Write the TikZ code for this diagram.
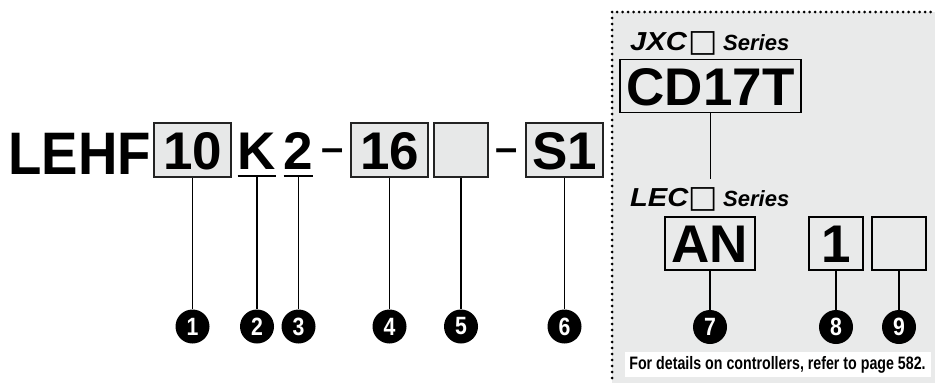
\documentclass[tikz,border=0pt]{standalone}
\usepackage{fontspec}
\setmainfont{Liberation Sans}
\newfontfamily\symfont{DejaVu Sans}
\definecolor{panelgray}{RGB}{233,234,234}
\definecolor{boxgray}{RGB}{231,232,232}
\definecolor{boxline}{RGB}{35,35,35}
\begin{document}
\begin{tikzpicture}[x=1pt,y=-1pt,
  codebox/.style={draw=boxline, line width=1.8pt, fill=boxgray, minimum width=#1, minimum height=54pt, inner sep=0pt, text height=38pt, text depth=0pt, font=\fontsize{53}{53}\selectfont\bfseries},
  plainchar/.style={minimum width=#1, minimum height=54pt, inner sep=0pt, text height=38pt, text depth=0pt, font=\fontsize{53}{53}\selectfont\bfseries},
  ctrlbox/.style={draw=black, line width=1.6pt, fill=panelgray, minimum width=#1, minimum height=53pt, inner sep=0pt, text height=38pt, text depth=0pt, font=\fontsize{53}{53}\selectfont\bfseries},
  dashchar/.style={inner sep=0pt, anchor=base, font=\fontsize{40}{40}\selectfont\bfseries},
  numdot/.style={circle, fill=black, minimum size=34pt, inner sep=0pt, text=white, font=\fontsize{25}{25}\selectfont\bfseries},
  leader/.style={line width=1.6pt, draw=black},
  uline/.style={line width=2pt, draw=black},
  headbig/.style={inner sep=0pt, anchor=base west, font=\fontsize{26}{26}\selectfont\bfseries\itshape},
  headsmall/.style={inner sep=0pt, anchor=base west, font=\fontsize{22}{22}\selectfont\bfseries\itshape},
  headsq/.style={inner sep=0pt, anchor=base west, font=\fontsize{31}{31}\selectfont\symfont}
]
\useasboundingbox (0,0) rectangle (935,383);
% controller panel
\fill[panelgray] (612,12) rectangle (935,383);
\foreach \i in {0,...,57} \fill[black] (617+5.5*\i,12) circle (1.5pt);
\foreach \i in {0,...,61} \fill[black] (612,12+6*\i) circle (1.5pt);

% main part number
\node[inner sep=0pt, anchor=base, font=\fontsize{60}{60}\selectfont\bfseries] (lehf) at (79.5,174) {\scalebox{0.91}[1]{LEHF}};
\node[codebox=77pt] (b10) at (192.5,150) {10};
\node[plainchar=38pt] (k) at (257,150) {K};
\node[plainchar=29pt] (n2) at (298.5,150) {2};
\node[dashchar] (d1) at (333,161) {–};
\node[codebox=77pt] (b16) at (389.5,150) {16};
\node[codebox=54pt] (b5) at (461,150) {};
\node[dashchar] (d2) at (506.5,161) {–};
\node[codebox=77pt] (bs1) at (564.5,150) {S1};

\draw[uline] ([yshift=1pt]k.south west) -- ([yshift=1pt]k.south east);
\draw[uline] ([yshift=1pt]n2.south west) -- ([yshift=1pt]n2.south east);

% number markers
\node[numdot] (c1) at (192.5,326.5) {\scalebox{0.85}[1]{1}};
\node[numdot] (c2) at (257,326.5) {\scalebox{0.85}[1]{2}};
\node[numdot] (c3) at (298.5,326.5) {\scalebox{0.85}[1]{3}};
\node[numdot] (c4) at (389.5,326.5) {\scalebox{0.85}[1]{4}};
\node[numdot] (c5) at (461,326.5) {\scalebox{0.85}[1]{5}};
\node[numdot] (c6) at (564.5,326.5) {\scalebox{0.85}[1]{6}};

\draw[leader] (b10.south) -- (c1.north);
\draw[leader] ([yshift=1pt]k.south) -- (c2.north);
\draw[leader] ([yshift=1pt]n2.south) -- (c3.north);
\draw[leader] (b16.south) -- (c4.north);
\draw[leader] (b5.south) -- (c5.north);
\draw[leader] (bs1.south) -- (c6.north);

% controller section
\node[headbig] (jxc) at (630,50) {\scalebox{1.12}[1]{JXC}};
\node[headsq] (jxcsq) at (688,51.5) {□};
\node[headsmall] (jxcser) at (723,50) {Series};
\node[ctrlbox=181pt] (cd) at (710.5,86) {CD17T};
\coordinate (cdend) at (710.5,179);
\draw[leader] (cd.south) -- (cdend);

\node[headbig] (lec) at (630,206) {\scalebox{1.12}[1]{LEC}};
\node[headsq] (lecsq) at (688,207.5) {□};
\node[headsmall] (lecser) at (723,206) {Series};

\node[ctrlbox=90pt] (an) at (710,243.5) {AN};
\node[ctrlbox=54pt] (b8) at (836,243.5) {1};
\node[ctrlbox=54pt] (b9) at (899,243.5) {};

\node[numdot] (c7) at (710,327) {\scalebox{0.85}[1]{7}};
\node[numdot] (c8) at (836,327) {\scalebox{0.85}[1]{8}};
\node[numdot] (c9) at (899,327) {\scalebox{0.85}[1]{9}};

\draw[leader] (an.south) -- (c7.north);
\draw[leader] (b8.south) -- (c8.north);
\draw[leader] (b9.south) -- (c9.north);

\node[fill=white, inner sep=0pt, minimum width=306pt, minimum height=25pt, font=\fontsize{18}{18}\selectfont\bfseries] (note) at (777.5,364.5) {\scalebox{0.79}[1]{For details on controllers, refer to page 582.}};
\end{tikzpicture}
\end{document}
